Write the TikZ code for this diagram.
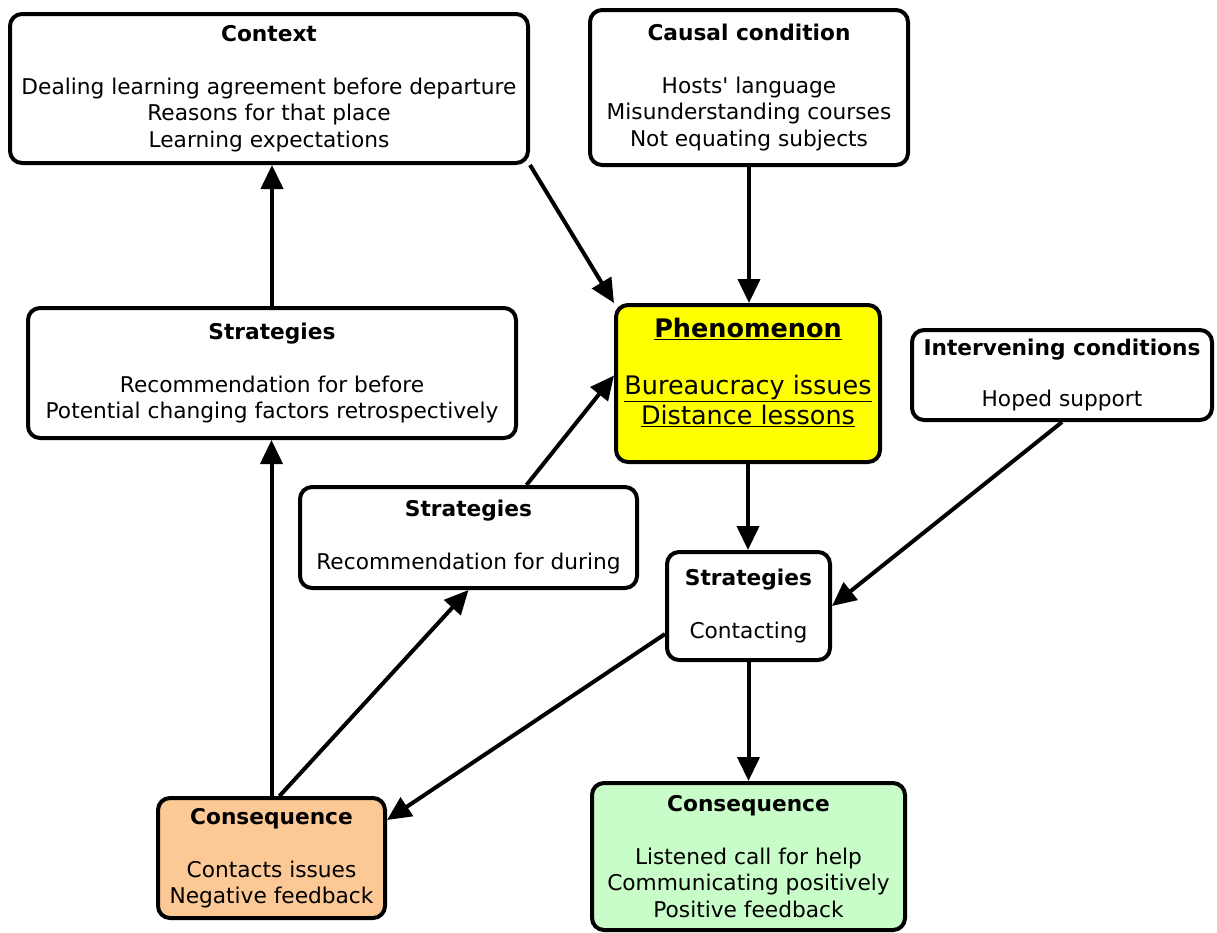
\documentclass[tikz,border=0pt]{standalone}
\usepackage{fontspec}
\setmainfont{DejaVu Sans}
\usetikzlibrary{arrows.meta,calc}
\definecolor{phenyellow}{HTML}{FFFF00}
\definecolor{consorange}{HTML}{FCC896}
\definecolor{consgreen}{HTML}{C8FCC8}
\tikzset{
  boxnode/.style={draw=black, line width=4pt, rounded corners=12pt, fill=white,
    align=center, inner sep=0pt, font=\fontsize{21.7}{26.5}\selectfont},
  link/.style={line width=4pt, -{Triangle[length=24pt,width=22pt]}},
}
\begin{document}
\begin{tikzpicture}[x=1pt,y=-1pt]
\useasboundingbox (0,0) rectangle (1217,932);

\node[boxnode, minimum width=518pt, minimum height=149pt] (ctx) at (269,88.5)
  {\textbf{Context}\\[26.5pt]Dealing learning agreement before departure\\Reasons for that place\\Learning expectations};
\node[boxnode, minimum width=318pt, minimum height=155pt] (causal) at (749,87.5)
  {\textbf{Causal condition}\\[26.5pt]Hosts\textquotesingle\ language\\Misunderstanding courses\\Not equating subjects};
\node[boxnode, minimum width=488pt, minimum height=130pt] (stratL) at (272,373)
  {\textbf{Strategies}\\[26.5pt]Recommendation for before\\Potential changing factors retrospectively};
\node[boxnode, fill=phenyellow, minimum width=264pt, minimum height=157pt,
  font=\fontsize{25.5}{30}\selectfont] (phen) at (748,383.5)
  {\textbf{\underline{Phenomenon}}\\[27pt]\underline{Bureaucracy issues}\\\underline{Distance lessons}\rule[-24pt]{0pt}{1pt}};
\node[boxnode, minimum width=300pt, minimum height=90pt] (interv) at (1062,375)
  {\textbf{Intervening conditions}\\[24pt]Hoped support};
\node[boxnode, minimum width=337pt, minimum height=101pt] (stratM) at (468.5,537.5)
  {\textbf{Strategies}\\[26.5pt]Recommendation for during};
\node[boxnode, minimum width=163pt, minimum height=108pt] (stratR) at (748.5,606)
  {\textbf{Strategies}\\[26.5pt]Contacting};
\node[boxnode, fill=consorange, minimum width=227pt, minimum height=120pt] (consO) at (271.5,858)
  {\textbf{Consequence}\\[26.5pt]Contacts issues\\Negative feedback};
\node[boxnode, fill=consgreen, minimum width=313pt, minimum height=147pt] (consG) at (748.5,856.5)
  {\textbf{Consequence}\\[26.5pt]Listened call for help\\Communicating positively\\Positive feedback};

\draw[link] (stratL.north) -- (stratL.north |- ctx.south);
\draw[link] (ctx.south east) -- (phen.north west);
\draw[link] (causal.south) -- (causal.south |- phen.north);
\draw[link] ([xshift=58pt]stratM.north) -- ([yshift=8pt]phen.west);
\draw[link] (phen.south) -- (phen.south |- stratR.north);
\draw[link] (interv.south) -- (stratR.east);
\draw[link] ([yshift=-28pt]stratR.west) -- ([yshift=-24pt]consO.north east);
\draw[link] (stratR.south) -- (stratR.south |- consG.north);
\draw[link] (consO.north) -- (consO.north |- stratL.south);
\draw[link] ([xshift=8pt]consO.north) -- (stratM.south);
\end{tikzpicture}
\end{document}
